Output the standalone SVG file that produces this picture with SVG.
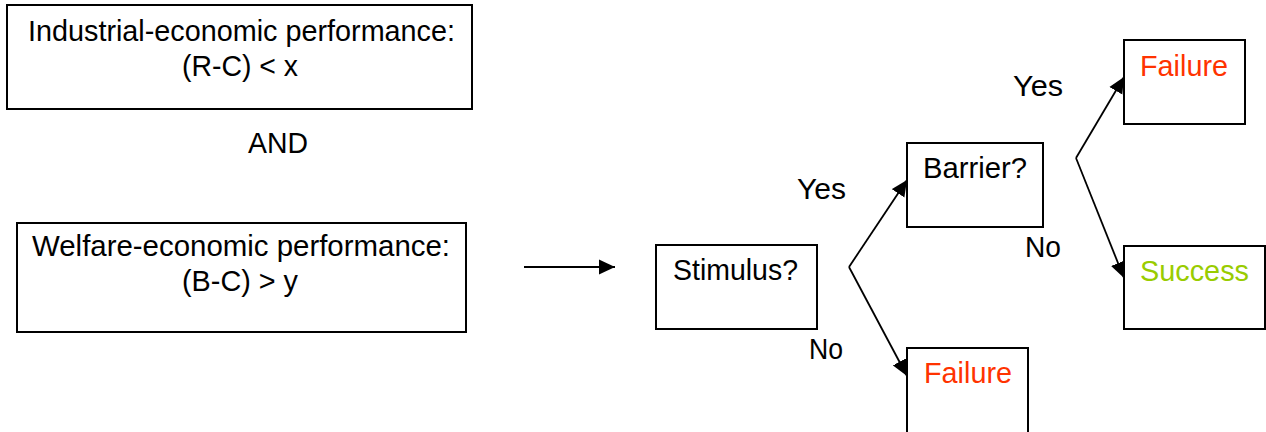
<svg xmlns="http://www.w3.org/2000/svg" width="1266" height="432" viewBox="0 0 1266 432">
<style>
.box{fill:#fff;stroke:#000;stroke-width:2}
.t{font-family:"Liberation Sans",Arial,sans-serif;font-size:29px;fill:#000}
.fail{fill:#FF3300}
.succ{fill:#99CC00}
.c{fill:none;stroke:#000;stroke-width:1.8}
</style>
<defs>
<marker id="ah" markerUnits="userSpaceOnUse" markerWidth="17" markerHeight="16" refX="16" refY="8" orient="auto">
<path d="M0,0.5 L16,8 L0,15.5 z" fill="#000"/>
</marker>
</defs>
<g id="industrial">
<rect class="box" x="7" y="5" width="465" height="104"/>
<text class="t" x="28" y="41" textLength="427" lengthAdjust="spacingAndGlyphs">Industrial-economic performance:</text>
<text class="t" x="182" y="76" textLength="116" lengthAdjust="spacingAndGlyphs">(R-C) &lt; x</text>
</g>
<g id="and">
<text class="t" x="248" y="153" textLength="60" lengthAdjust="spacingAndGlyphs">AND</text>
</g>
<g id="welfare">
<rect class="box" x="17" y="223" width="449" height="109"/>
<text class="t" x="32" y="256" textLength="418" lengthAdjust="spacingAndGlyphs">Welfare-economic performance:</text>
<text class="t" x="182" y="291" textLength="116" lengthAdjust="spacingAndGlyphs">(B-C) &gt; y</text>
</g>
<g id="stimulus">
<rect class="box" x="656" y="245" width="161" height="84"/>
<text class="t" x="673" y="280" textLength="125" lengthAdjust="spacingAndGlyphs">Stimulus?</text>
</g>
<g id="barrier">
<rect class="box" x="907" y="143" width="136" height="84"/>
<text class="t" x="923" y="178" textLength="104" lengthAdjust="spacingAndGlyphs">Barrier?</text>
</g>
<g id="failure1">
<rect class="box" x="1124" y="40" width="121" height="84"/>
<text class="t fail" x="1140" y="76" textLength="88" lengthAdjust="spacingAndGlyphs">Failure</text>
</g>
<g id="success">
<rect class="box" x="1124" y="246" width="141" height="83"/>
<text class="t succ" x="1140" y="281" textLength="109" lengthAdjust="spacingAndGlyphs">Success</text>
</g>
<g id="failure2">
<rect class="box" x="907" y="348" width="121" height="90"/>
<text class="t fail" x="924" y="383" textLength="88" lengthAdjust="spacingAndGlyphs">Failure</text>
</g>
<g id="connectors">
<line class="c" x1="524" y1="267" x2="615" y2="267" marker-end="url(#ah)"/>
<line class="c" x1="849" y1="267" x2="907" y2="180" marker-end="url(#ah)"/>
<line class="c" x1="849" y1="267" x2="907" y2="376" marker-end="url(#ah)"/>
<line class="c" x1="1076" y1="158" x2="1124" y2="77" marker-end="url(#ah)"/>
<line class="c" x1="1076" y1="158" x2="1124" y2="278" marker-end="url(#ah)"/>
</g>
<g id="labels">
<text class="t" x="797" y="199" textLength="49" lengthAdjust="spacingAndGlyphs">Yes</text>
<text class="t" x="809" y="359" textLength="34" lengthAdjust="spacingAndGlyphs">No</text>
<text class="t" x="1013" y="96" textLength="50" lengthAdjust="spacingAndGlyphs">Yes</text>
<text class="t" x="1025" y="257" textLength="36" lengthAdjust="spacingAndGlyphs">No</text>
</g>
</svg>
